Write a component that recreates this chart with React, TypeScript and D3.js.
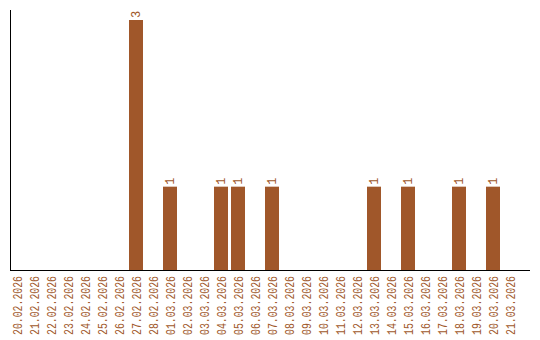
import React from "react";
import * as d3 from "d3";

const categories: string[] = [
  "20.02.2026","21.02.2026","22.02.2026","23.02.2026","24.02.2026","25.02.2026","26.02.2026","27.02.2026","28.02.2026",
  "01.03.2026","02.03.2026","03.03.2026","04.03.2026","05.03.2026","06.03.2026","07.03.2026","08.03.2026","09.03.2026",
  "10.03.2026","11.03.2026","12.03.2026","13.03.2026","14.03.2026","15.03.2026","16.03.2026","17.03.2026","18.03.2026",
  "19.03.2026","20.03.2026","21.03.2026",
];
const values: number[] = [
  0,0,0,0,0,0,0,3,0,
  1,0,0,1,1,0,1,0,0,
  0,0,0,1,0,1,0,0,1,
  0,1,0,
];

const W = 540, H = 340;
const left = 10, top = 10, baseline = 270, right = 530;
const color = "#A0572A";
const font = "'Liberation Mono', monospace";

export default function App() {
  const x = d3.scaleBand<string>().domain(categories).range([left, left + 507]).paddingInner(3 / 17).paddingOuter(0);
  const bw = x.bandwidth();
  const y = d3.scaleLinear().domain([0, 3]).range([baseline, 20]);
  return (
    <svg width={W} height={H} style={{ position: "absolute", left: 0, top: 0, background: "#fff" }}>
      {categories.map((c, i) => {
        const x0 = x(c)!;
        const cx = x0 + bw / 2;
        const v = values[i];
        return (
          <g key={c}>
            {v > 0 && (
              <>
                <rect x={x0} y={y(v)} width={bw} height={baseline - y(v)} fill={color} />
                <text
                  transform={`translate(${cx + 4.2},${y(v) - 2}) rotate(-90)`}
                  fontFamily={font}
                  fontSize={12}
                  fill={color}
                  textAnchor="start"
                >
                  {v}
                </text>
              </>
            )}
            <text
              transform={`translate(${cx + 5},${baseline + 6}) rotate(-90)`}
              fontFamily={font}
              fontSize={12}
              fill={color}
              textAnchor="end"
              textLength={59}
              lengthAdjust="spacingAndGlyphs"
            >
              {c}
            </text>
          </g>
        );
      })}
      <line x1={left + 0.5} x2={left + 0.5} y1={top} y2={baseline} stroke="#000" strokeWidth={1} />
      <line x1={left} x2={right} y1={baseline + 0.5} y2={baseline + 0.5} stroke="#000" strokeWidth={1} />
    </svg>
  );
}
